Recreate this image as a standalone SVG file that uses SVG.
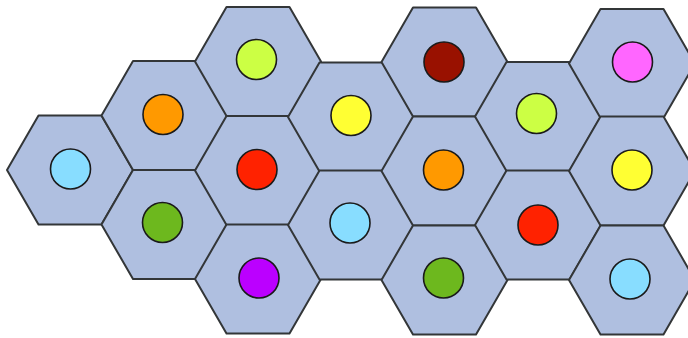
<svg xmlns="http://www.w3.org/2000/svg" xmlns:xlink="http://www.w3.org/1999/xlink" width="688" height="338" viewBox="0 0 688 338">
<style>
.hex{fill:#AFBFE0;stroke:#333638;stroke-width:2;stroke-linejoin:round}
.dot{stroke:#1a1a1a;stroke-width:1.6}
</style>
<defs>
<polygon id="hex" class="hex" points="-63,0 -31.5,-54.5 31.5,-54.5 63,0 31.5,54.5 -31.5,54.5"/>
</defs>
<rect width="688" height="338" fill="#ffffff"/>
<g id="connectors"/>
<g id="n1" transform="translate(70,170)"><use xlink:href="#hex"/><circle class="dot" cx="0.5" cy="-1" r="20" fill="#88DDFF"/></g>
<g id="n2" transform="translate(164.5,115.5)"><use xlink:href="#hex"/><circle class="dot" cx="-1.5" cy="-1" r="20" fill="#FF9900"/></g>
<g id="n3" transform="translate(164.5,224.5)"><use xlink:href="#hex"/><circle class="dot" cx="-2" cy="-2" r="20" fill="#6DB81E"/></g>
<g id="n4" transform="translate(258,61.5)"><use xlink:href="#hex"/><circle class="dot" cx="-1.5" cy="-2" r="20" fill="#CCFF44"/></g>
<g id="n5" transform="translate(258,170.5)"><use xlink:href="#hex"/><circle class="dot" cx="-1" cy="-1" r="20" fill="#FF2200"/></g>
<g id="n6" transform="translate(258,279)"><use xlink:href="#hex"/><circle class="dot" cx="1" cy="-1" r="20" fill="#BB00FF"/></g>
<g id="n7" transform="translate(351,117)"><use xlink:href="#hex"/><circle class="dot" cx="0" cy="-1.5" r="20" fill="#FFFF33"/></g>
<g id="n8" transform="translate(351,225)"><use xlink:href="#hex"/><circle class="dot" cx="-1" cy="-2" r="20" fill="#88DDFF"/></g>
<g id="n9" transform="translate(444.5,62)"><use xlink:href="#hex"/><circle class="dot" cx="-0.5" cy="0" r="20" fill="#991100"/></g>
<g id="n10" transform="translate(444.5,171)"><use xlink:href="#hex"/><circle class="dot" cx="-1" cy="-1" r="20" fill="#FF9900"/></g>
<g id="n11" transform="translate(444.5,280)"><use xlink:href="#hex"/><circle class="dot" cx="-1" cy="-2" r="20" fill="#6DB81E"/></g>
<g id="n12" transform="translate(538,116.5)"><use xlink:href="#hex"/><circle class="dot" cx="-1.5" cy="-3" r="20" fill="#CCFF44"/></g>
<g id="n13" transform="translate(538,225)"><use xlink:href="#hex"/><circle class="dot" cx="0" cy="0" r="20" fill="#FF2200"/></g>
<g id="n14" transform="translate(632,63.5)"><use xlink:href="#hex"/><circle class="dot" cx="0.5" cy="-1.5" r="20" fill="#FF66FF"/></g>
<g id="n15" transform="translate(632,171)"><use xlink:href="#hex"/><circle class="dot" cx="0" cy="-1" r="20" fill="#FFFF33"/></g>
<g id="n16" transform="translate(632,280)"><use xlink:href="#hex"/><circle class="dot" cx="-2" cy="-1" r="20" fill="#88DDFF"/></g>
</svg>
